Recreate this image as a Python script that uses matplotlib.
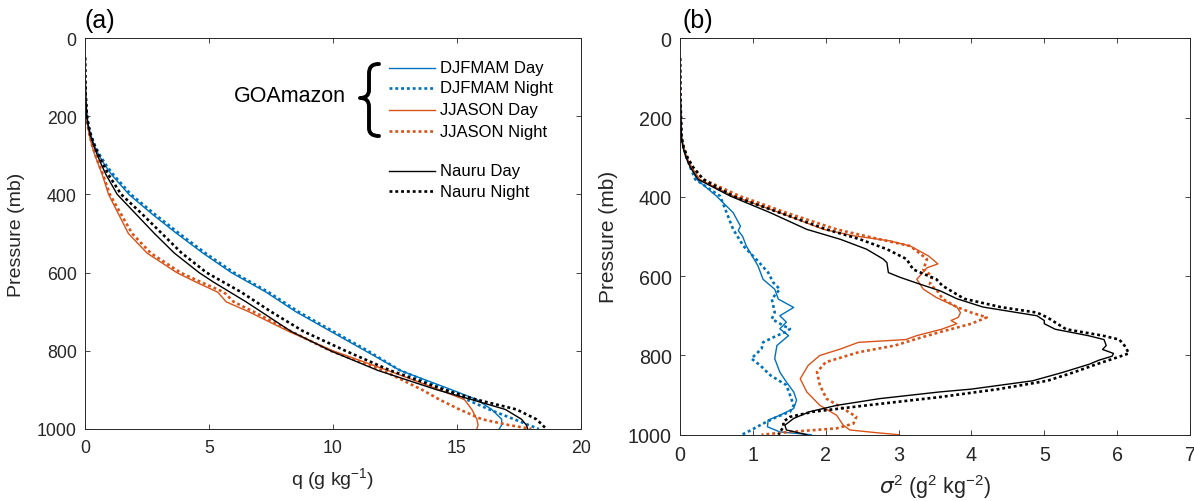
import matplotlib
matplotlib.use("Agg")
import matplotlib.pyplot as plt
from matplotlib.path import Path
from matplotlib.patches import PathPatch
from matplotlib.lines import Line2D

plt.rcParams['font.family'] = ['Liberation Sans', 'DejaVu Sans']
plt.rcParams['mathtext.fontset'] = 'dejavusans'

# ---------------- DATA ----------------
series_labels = ["DJFMAM Day", "DJFMAM Night", "JJASON Day", "JJASON Night", "Nauru Day", "Nauru Night"]

# Panel (a): specific humidity q (g/kg) on common pressure levels (mb)
p_a = [50, 100, 150, 200, 225, 250, 275, 300, 325, 350, 400, 450, 500, 550, 600, 625, 650, 675,
       700, 750, 800, 850, 900, 925, 950, 975, 990, 1000]
q_djfmam_day = [0, 0.01, 0.03, 0.08, 0.14, 0.24, 0.38, 0.56, 0.80, 1.08, 1.77, 2.70, 3.70, 4.75, 5.90, 6.60,
                7.30, 7.90, 8.50, 9.90, 11.3, 12.7, 14.8, 15.8, 16.4, 16.8, 16.8, 16.7]
q_djfmam_night = [0, 0.01, 0.03, 0.08, 0.15, 0.25, 0.40, 0.60, 0.85, 1.15, 1.85, 2.80, 3.80, 4.85, 6.00, 6.70,
                  7.40, 8.00, 8.60, 10.0, 11.4, 12.7, 14.6, 15.4, 16.3, 17.3, 17.9, 18.3]
q_jjason_day = [0, 0.01, 0.02, 0.06, 0.11, 0.18, 0.28, 0.40, 0.55, 0.70, 0.95, 1.35, 1.75, 2.50, 3.70, 4.50,
                5.35, 5.70, 6.60, 8.20, 10.0, 12.2, 14.3, 15.3, 15.6, 15.8, 15.85, 15.8]
q_jjason_night = [0, 0.01, 0.02, 0.06, 0.11, 0.19, 0.29, 0.42, 0.57, 0.73, 1.00, 1.45, 1.90, 2.65, 3.85, 4.70,
                  5.60, 6.00, 6.80, 8.30, 9.90, 12.0, 13.6, 14.3, 15.1, 16.0, 17.1, 18.0]
q_nauru_day = [0, 0.01, 0.03, 0.07, 0.13, 0.22, 0.35, 0.50, 0.67, 0.85, 1.30, 2.05, 2.80, 3.60, 4.60, 5.20,
               5.85, 6.50, 7.10, 8.30, 9.90, 11.8, 14.2, 15.6, 16.95, 17.6, 17.8, 17.85]
q_nauru_night = [0, 0.01, 0.03, 0.08, 0.14, 0.24, 0.38, 0.55, 0.75, 0.95, 1.46, 2.30, 3.10, 3.90, 4.90, 5.60,
                 6.30, 6.90, 7.50, 8.80, 10.5, 12.3, 14.5, 15.8, 17.4, 18.2, 18.45, 18.6]

# Panel (b): variance sigma^2 (g^2/kg^2), each series on its own pressure levels
p_b_djfmam_day = [50, 150, 250, 275, 300, 325, 356, 398, 440, 474, 485, 500, 524, 574, 608, 633, 658, 679,
                  700, 716, 733, 750, 775, 808, 842, 867, 892, 913, 934, 951, 963, 980, 993, 1000]
v_djfmam_day = [0, 0.005, 0.02, 0.05, 0.09, 0.15, 0.23, 0.50, 0.73, 0.83, 0.80, 0.86, 0.91, 1.07, 1.14, 1.30,
                1.35, 1.56, 1.37, 1.46, 1.37, 1.49, 1.33, 1.30, 1.37, 1.46, 1.56, 1.60, 1.56, 1.37, 1.21, 1.20,
                1.37, 1.80]

p_b_djfmam_night = [50, 150, 250, 275, 300, 325, 356, 398, 440, 482, 524, 562, 591, 616, 633, 658, 691, 708,
                    725, 733, 741, 750, 767, 783, 808, 825, 850, 875, 900, 926, 942, 955, 972, 988, 1000]
v_djfmam_night = [0, 0.005, 0.02, 0.05, 0.09, 0.14, 0.21, 0.55, 0.64, 0.73, 0.87, 1.07, 1.21, 1.28, 1.37, 1.26,
                  1.30, 1.26, 1.42, 1.51, 1.45, 1.33, 1.14, 1.12, 0.98, 1.10, 1.24, 1.46, 1.51, 1.56, 1.51,
                  1.33, 1.14, 0.98, 0.85]

p_b_jjason_day = [50, 150, 250, 275, 300, 325, 356, 398, 440, 482, 498, 511, 524, 549, 569, 579, 608, 633,
                  654, 678, 692, 704, 712, 720, 734, 750, 760, 767, 784, 800, 825, 859, 892, 926, 951, 976,
                  988, 995, 1000]
v_jjason_day = [0, 0.005, 0.02, 0.05, 0.09, 0.16, 0.27, 0.73, 1.37, 1.97, 2.38, 2.88, 3.16, 3.41, 3.54, 3.39,
                3.25, 3.34, 3.52, 3.80, 3.85, 3.82, 3.72, 3.80, 3.59, 3.25, 3.10, 2.45, 2.20, 1.92, 1.76,
                1.65, 1.74, 1.92, 2.15, 2.24, 2.33, 2.70, 3.00]

p_b_jjason_night = [50, 150, 250, 275, 300, 325, 356, 398, 440, 482, 507, 524, 557, 583, 600, 620, 641, 657,
                    678, 692, 704, 720, 741, 758, 775, 792, 817, 842, 875, 909, 934, 955, 972, 984, 993, 1000]
v_jjason_night = [0, 0.005, 0.02, 0.05, 0.10, 0.17, 0.32, 0.82, 1.46, 2.15, 2.74, 3.16, 3.39, 3.34, 3.46, 3.43,
                  3.55, 3.60, 3.80, 4.00, 4.21, 4.00, 3.57, 3.25, 2.95, 2.45, 2.00, 1.88, 1.92, 2.01, 2.24,
                  2.42, 2.38, 2.15, 1.51, 1.12]

p_b_nauru_day = [50, 150, 250, 275, 300, 325, 356, 398, 440, 482, 507, 532, 557, 566, 591, 603, 620, 637, 657,
                 678, 700, 712, 720, 734, 750, 760, 775, 785, 795, 802, 812, 822, 843, 864, 885, 892, 909, 926,
                 942, 959, 976, 988, 1000]
v_nauru_day = [0, 0.005, 0.02, 0.04, 0.08, 0.14, 0.25, 0.69, 1.24, 1.74, 2.20, 2.56, 2.79, 2.84, 2.86, 3.02,
               3.29, 3.57, 3.80, 4.16, 4.90, 5.00, 5.00, 5.15, 5.60, 5.82, 5.85, 5.80, 5.95, 5.93, 5.75, 5.62,
               5.25, 4.84, 4.00, 3.57, 2.74, 2.15, 1.78, 1.56, 1.44, 1.46, 1.74]

p_b_nauru_night = [50, 150, 250, 275, 300, 325, 356, 398, 440, 482, 507, 532, 557, 583, 608, 624, 657, 678,
                   692, 704, 734, 750, 760, 775, 784, 795, 805, 822, 843, 864, 885, 905, 926, 942, 955, 967,
                   980, 1000]
v_nauru_night = [0, 0.005, 0.02, 0.05, 0.10, 0.18, 0.32, 0.73, 1.37, 2.01, 2.47, 2.84, 3.11, 3.20, 3.52, 3.60,
                 3.90, 4.40, 4.90, 5.04, 5.30, 5.80, 6.03, 6.10, 6.13, 6.16, 6.00, 5.72, 5.40, 5.04, 4.37,
                 3.57, 2.56, 1.83, 1.51, 1.42, 1.42, 1.35]

xticks_a = [0, 5, 10, 15, 20]
xticks_b = [0, 1, 2, 3, 4, 5, 6, 7]
yticks = [0, 200, 400, 600, 800, 1000]

# ---------------- STYLE ----------------
BLUE = '#0072BD'
ORANGE = '#D95319'
BLACK = '#000000'
AXC = '#262626'
W, H = 1194, 502

styles = [
    dict(color=BLUE, lw=1.0, ls='-'),
    dict(color=BLUE, lw=1.9, ls=(0, (1.1, 1.1))),
    dict(color=ORANGE, lw=1.0, ls='-'),
    dict(color=ORANGE, lw=1.9, ls=(0, (1.1, 1.1))),
    dict(color=BLACK, lw=1.0, ls='-'),
    dict(color=BLACK, lw=1.9, ls=(0, (1.1, 1.1))),
]


def fx(px):
    return px / W


def fy(py):
    return 1 - py / H


fig = plt.figure(figsize=(W / 100, H / 100), dpi=100)
ax_a = fig.add_axes([fx(85), fy(430), (581 - 85) / W, (430 - 39) / H])
ax_b = fig.add_axes([fx(680), fy(435.7), (1190 - 680) / W, (435.7 - 39.3) / H])

q_series = [q_djfmam_day, q_djfmam_night, q_jjason_day, q_jjason_night, q_nauru_day, q_nauru_night]
for q, st in zip(q_series, styles):
    ax_a.plot(q, p_a, color=st['color'], lw=st['lw'], ls=st['ls'], dash_capstyle='butt')

b_series = [(v_djfmam_day, p_b_djfmam_day), (v_djfmam_night, p_b_djfmam_night),
            (v_jjason_day, p_b_jjason_day), (v_jjason_night, p_b_jjason_night),
            (v_nauru_day, p_b_nauru_day), (v_nauru_night, p_b_nauru_night)]
for (v, p), st in zip(b_series, styles):
    ax_b.plot(v, p, color=st['color'], lw=st['lw'], ls=st['ls'], dash_capstyle='butt')


def style_axes(ax, xticks, xmax, fs, xpad):
    ax.set_xlim(0, xmax)
    ax.set_ylim(1000, 0)
    ax.set_xticks(xticks)
    ax.set_yticks(yticks)
    ax.tick_params(direction='in', top=True, right=True, length=3.6, width=0.6,
                   colors=AXC, labelsize=fs)
    ax.tick_params(axis='x', pad=xpad)
    ax.tick_params(axis='y', pad=6)
    for s in ax.spines.values():
        s.set_color(AXC)
        s.set_linewidth(0.7)


style_axes(ax_a, xticks_a, 20, 12.8, 7)
style_axes(ax_b, xticks_b, 7, 14.2, 7.5)

# Labels
fig.text(fx(17), fy(235), 'Pressure (mb)', rotation=90, ha='center', va='center', fontsize=14, color=AXC)
fig.text(fx(609), fy(237), 'Pressure (mb)', rotation=90, ha='center', va='center', fontsize=15, color=AXC)
fig.text(fx(333), fy(480), r'q (g kg$^{\mathregular{-1}}$)', ha='center', va='center', fontsize=14, color=AXC)
fig.text(fx(935), fy(487), r'$\sigma^{\mathregular{2}}$ (g$^{\mathregular{2}}$ kg$^{\mathregular{-2}}$)',
         ha='center', va='center', fontsize=15.5, color=AXC)
fig.text(fx(84), fy(21), '(a)', ha='left', va='center', fontsize=18, color='black')
fig.text(fx(682), fy(21), '(b)', ha='left', va='center', fontsize=18, color='black')

# Manual legend in panel (a)
rows_y = [69, 89, 111, 132, 172, 192]
for lab, st, yy in zip(series_labels, styles, rows_y):
    fig.add_artist(Line2D([fx(389), fx(435)], [fy(yy), fy(yy)], color=st['color'], lw=st['lw'],
                          ls=st['ls'], dash_capstyle='butt', transform=fig.transFigure))
    fig.text(fx(440), fy(yy), lab, ha='left', va='center', fontsize=12, color='black')

fig.text(fx(346), fy(96), 'GOAmazon', ha='right', va='center', fontsize=15.5, color='black')

# Curly brace
brace_px = [(379, 65), (372, 65), (369, 68), (369, 75),
            (369, 91),
            (369, 96), (366, 99), (360, 99),
            (366, 99), (369, 102), (369, 108),
            (369, 129),
            (369, 134), (372, 137), (379, 137)]
codes = [Path.MOVETO, Path.CURVE4, Path.CURVE4, Path.CURVE4,
         Path.LINETO,
         Path.CURVE4, Path.CURVE4, Path.CURVE4,
         Path.CURVE4, Path.CURVE4, Path.CURVE4,
         Path.LINETO,
         Path.CURVE4, Path.CURVE4, Path.CURVE4]
verts = [(fx(x), fy(y)) for x, y in brace_px]
fig.add_artist(PathPatch(Path(verts, codes), facecolor='none', edgecolor='black', lw=2.8,
                         transform=fig.transFigure, capstyle='round', joinstyle='round'))

fig.savefig('out.png', dpi=100)
